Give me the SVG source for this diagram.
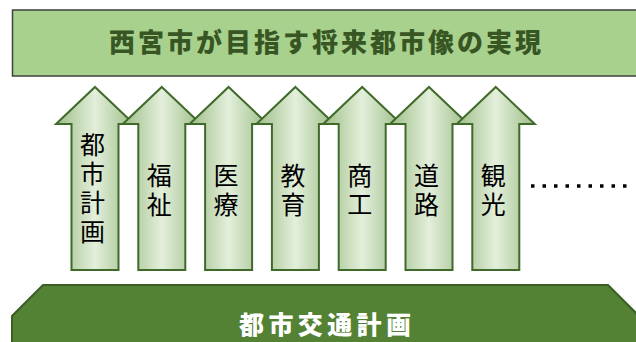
<svg xmlns="http://www.w3.org/2000/svg" width="636" height="342" viewBox="0 0 636 342">
<style>
.title{font-family:"Noto Sans CJK JP","Noto Sans CJK SC",sans-serif;font-weight:900;font-size:26px;fill:#375623}
.lbl{font-family:"Noto Sans CJK JP","Noto Sans CJK SC",sans-serif;font-size:25px;fill:#000;text-anchor:middle;writing-mode:vertical-rl;letter-spacing:4px}
.base{font-family:"Noto Sans CJK JP","Noto Sans CJK SC",sans-serif;font-weight:900;font-size:25px;fill:#fff}
.arrow{fill:url(#ag);stroke:#3f6a2a;stroke-width:2;stroke-linejoin:miter}
</style>
<defs>
<linearGradient id="ag" x1="0" y1="0" x2="1" y2="0">
<stop offset="0" stop-color="#9dbd87"/>
<stop offset="0.5" stop-color="#e3efdb"/>
<stop offset="1" stop-color="#9dbd87"/>
</linearGradient>
<path id="arr" d="M0,87 L39,124 L23.5,124 L23.5,270 L-23.5,270 L-23.5,124 L-39,124 Z"/>
</defs>
<g id="goal">
<rect x="12.5" y="10" width="640" height="66" fill="#a9d18e" stroke="#404040" stroke-width="1.5"/>
<text class="title" x="109" y="52" textLength="432" lengthAdjust="spacing">西宮市が目指す将来都市像の実現</text>
</g>
<g id="arrow1"><use href="#arr" class="arrow" x="95"/>
<text class="lbl" x="92.5" y="190">都市計画</text></g>
<g id="arrow2"><use href="#arr" class="arrow" x="161.8"/>
<text class="lbl" x="159.3" y="191.5">福祉</text></g>
<g id="arrow3"><use href="#arr" class="arrow" x="228.6"/>
<text class="lbl" x="226.1" y="191.5">医療</text></g>
<g id="arrow4"><use href="#arr" class="arrow" x="295.4"/>
<text class="lbl" x="292.9" y="191.5">教育</text></g>
<g id="arrow5"><use href="#arr" class="arrow" x="362.2"/>
<text class="lbl" x="359.7" y="191.5">商工</text></g>
<g id="arrow6"><use href="#arr" class="arrow" x="429"/>
<text class="lbl" x="426.5" y="191.5">道路</text></g>
<g id="arrow7"><use href="#arr" class="arrow" x="495.8"/>
<text class="lbl" x="493.3" y="191.5">観光</text></g>
<g id="connectors">
<line x1="531" y1="186" x2="630" y2="186" stroke="#000" stroke-width="3.5" stroke-dasharray="3.5 8"/>
</g>
<g id="base">
<polygon points="43,285 608,285 639,316 639,350 12,350 12,316" fill="#548235" stroke="#3a5e26" stroke-width="2"/>
<text class="base" x="239" y="334" textLength="172" lengthAdjust="spacing">都市交通計画</text>
</g>
</svg>
